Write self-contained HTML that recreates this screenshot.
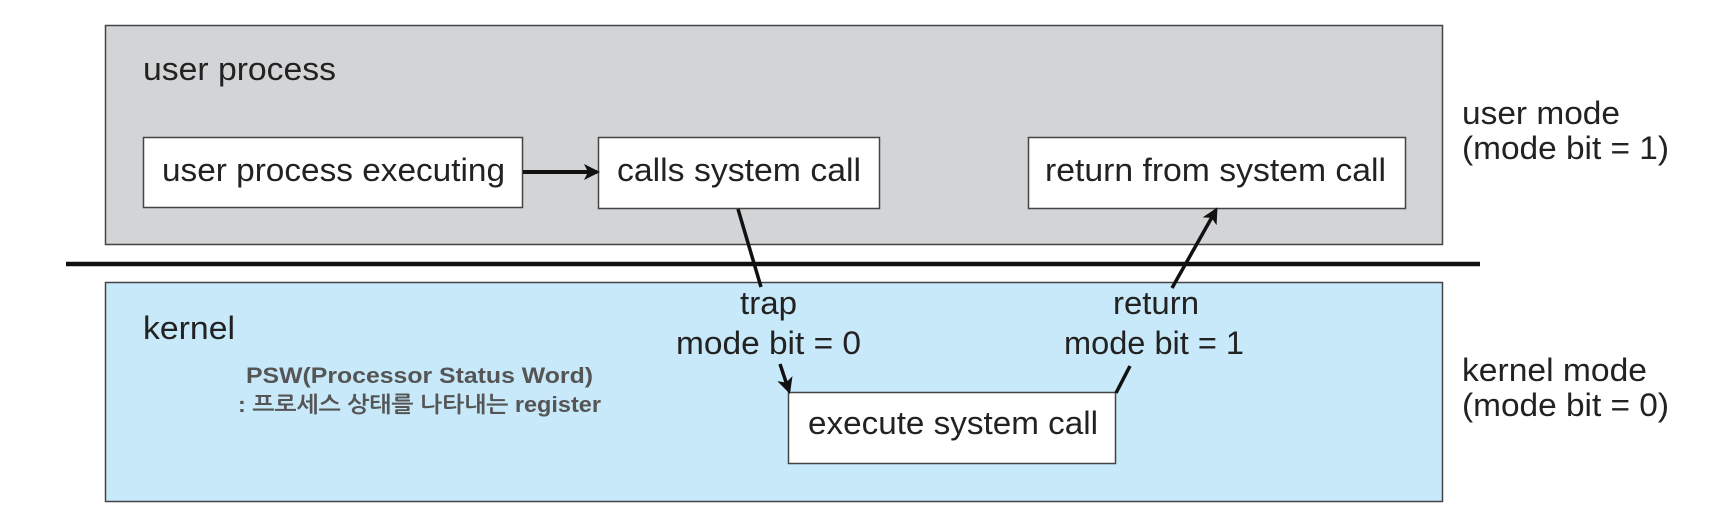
<!DOCTYPE html>
<html><head><meta charset="utf-8"><style>
html,body{margin:0;padding:0;background:#fff;}
svg{display:block;}
text{font-family:"Liberation Sans","NanumGothic","Noto Sans CJK KR",sans-serif;fill:#222;}
</style></head><body>
<svg width="1724" height="524" viewBox="0 0 1724 524" xmlns="http://www.w3.org/2000/svg">
<defs>
<marker id="ah2" markerWidth="16" markerHeight="16" refX="13" refY="8" orient="auto" markerUnits="userSpaceOnUse">
<path d="M0,0 L16,8 L0,16 L4,8 Z" fill="#111"/>
</marker>
</defs>
<rect x="105.5" y="25.5" width="1337" height="219" fill="#d3d4d6" stroke="#444" stroke-width="1.5"/>
<line x1="66" y1="264" x2="1480" y2="264" stroke="#111" stroke-width="4.5"/>
<rect x="105.5" y="282.5" width="1337" height="219" fill="#c8e9f9" stroke="#444" stroke-width="1.5"/>

<rect x="143.5" y="137.5" width="379" height="70" fill="#fff" stroke="#444" stroke-width="1.5"/>
<rect x="598.5" y="137.5" width="281" height="71" fill="#fff" stroke="#444" stroke-width="1.5"/>
<rect x="1028.5" y="137.5" width="377" height="71" fill="#fff" stroke="#444" stroke-width="1.5"/>
<rect x="788.5" y="392.5" width="327" height="71" fill="#fff" stroke="#444" stroke-width="1.5"/>

<text x="143" y="80" font-size="32" textLength="193" lengthAdjust="spacingAndGlyphs">user process</text>
<text x="162" y="181" font-size="32" textLength="343" lengthAdjust="spacingAndGlyphs">user process executing</text>
<text x="617" y="181" font-size="32" textLength="244" lengthAdjust="spacingAndGlyphs">calls system call</text>
<text x="1045" y="181" font-size="32" textLength="341" lengthAdjust="spacingAndGlyphs">return from system call</text>
<text x="143" y="339" font-size="32" textLength="92" lengthAdjust="spacingAndGlyphs">kernel</text>
<text x="740" y="314" font-size="32" textLength="57" lengthAdjust="spacingAndGlyphs">trap</text>
<text x="676" y="354" font-size="32" textLength="185" lengthAdjust="spacingAndGlyphs">mode bit = 0</text>
<text x="1113" y="314" font-size="32" textLength="86" lengthAdjust="spacingAndGlyphs">return</text>
<text x="1064" y="354" font-size="32" textLength="180" lengthAdjust="spacingAndGlyphs">mode bit = 1</text>
<text x="808" y="434" font-size="32" textLength="290" lengthAdjust="spacingAndGlyphs">execute system call</text>
<text x="1462" y="124" font-size="32" textLength="158" lengthAdjust="spacingAndGlyphs">user mode</text>
<text x="1462" y="159" font-size="32" textLength="207" lengthAdjust="spacingAndGlyphs">(mode bit = 1)</text>
<text x="1462" y="381" font-size="32" textLength="185" lengthAdjust="spacingAndGlyphs">kernel mode</text>
<text x="1462" y="416" font-size="32" textLength="207" lengthAdjust="spacingAndGlyphs">(mode bit = 0)</text>
<text x="246" y="383" font-size="22" font-weight="bold" style="fill:#555" textLength="347" lengthAdjust="spacingAndGlyphs">PSW(Processor Status Word)</text>
<text x="238" y="412" font-size="22" font-weight="bold" style="fill:#555" textLength="363" lengthAdjust="spacingAndGlyphs">: 프로세스 상태를 나타내는 register</text>

<line x1="523" y1="172" x2="597" y2="172" stroke="#111" stroke-width="4" marker-end="url(#ah2)"/>
<line x1="738" y1="209" x2="761" y2="287" stroke="#111" stroke-width="3.5"/>
<line x1="780" y1="364" x2="789" y2="391" stroke="#111" stroke-width="3.5" marker-end="url(#ah2)"/>
<line x1="1116" y1="393" x2="1130" y2="366" stroke="#111" stroke-width="3.5"/>
<line x1="1172" y1="288" x2="1216" y2="210" stroke="#111" stroke-width="3.5" marker-end="url(#ah2)"/>
</svg>
</body></html>
